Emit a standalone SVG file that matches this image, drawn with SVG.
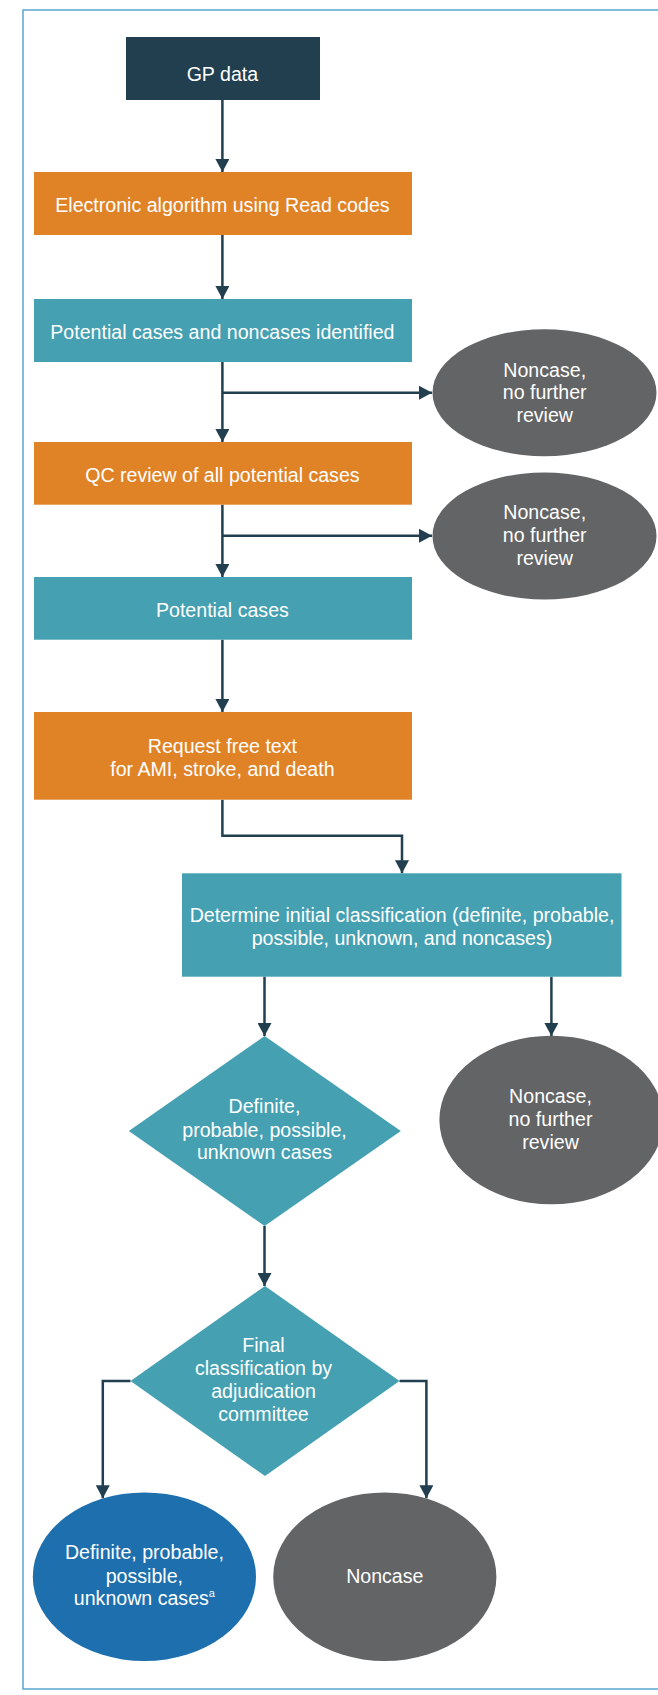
<svg xmlns="http://www.w3.org/2000/svg" width="658" height="1695" viewBox="0 0 658 1695">
<defs>
<marker id="ah" markerUnits="userSpaceOnUse" markerWidth="13" markerHeight="14" refX="13" refY="7" orient="auto">
<path d="M0,0 L13,7 L0,14 z" fill="#213f4f"/>
</marker>
<style>
.t{font-family:"Liberation Sans",Arial,sans-serif;font-size:19.6px;fill:#ffffff;text-anchor:middle}
.c{fill:none;stroke:#213f4f;stroke-width:2.5;marker-end:url(#ah)}
.navy{fill:#213f4f}.orange{fill:#e08327}.teal{fill:#45a0b2}.gray{fill:#636466}.blue{fill:#1d6fae}
</style>
</defs>
<rect x="0" y="0" width="658" height="1695" fill="#ffffff"/>
<rect x="23" y="10" width="700" height="1679" fill="none" stroke="#5aa5cf" stroke-width="1.5"/>
<g id="connectors">
<path class="c" d="M222.4,100 V172"/>
<path class="c" d="M222.4,235 V299"/>
<path class="c" d="M222.4,362 V442"/>
<path class="c" d="M222.4,392.7 H432"/>
<path class="c" d="M222.4,504.7 V577"/>
<path class="c" d="M222.4,535.7 H432"/>
<path class="c" d="M222.4,639.7 V712"/>
<path class="c" d="M222.4,799.7 V835.7 H402 V873.3"/>
<path class="c" d="M264.5,976.7 V1036"/>
<path class="c" d="M551.4,976.7 V1036"/>
<path class="c" d="M264.5,1226 V1286"/>
<path class="c" d="M130.5,1381 H102.8 V1498.3"/>
<path class="c" d="M399.5,1381 H426.4 V1498.3"/>
</g>
<g id="gp-data"><rect class="navy" x="126" y="37" width="194" height="63"/><text class="t" x="222.4" y="81">GP data</text></g>
<g id="algorithm"><rect class="orange" x="34" y="172" width="378" height="63"/><text class="t" x="222.4" y="211.7">Electronic algorithm using Read codes</text></g>
<g id="identified"><rect class="teal" x="34" y="299" width="378" height="63"/><text class="t" x="222.4" y="339">Potential cases and noncases identified</text></g>
<g id="noncase1"><ellipse class="gray" cx="544.5" cy="392.7" rx="112" ry="63.5"/><text class="t" x="544.7" y="376.7">Noncase,</text><text class="t" x="544.7" y="399">no further</text><text class="t" x="544.7" y="421.7">review</text></g>
<g id="qc-review"><rect class="orange" x="34" y="442" width="378" height="62.7"/><text class="t" x="222.4" y="481.7">QC review of all potential cases</text></g>
<g id="noncase2"><ellipse class="gray" cx="544.5" cy="536" rx="112" ry="63.5"/><text class="t" x="544.7" y="519">Noncase,</text><text class="t" x="544.7" y="542.3">no further</text><text class="t" x="544.7" y="565">review</text></g>
<g id="potential-cases"><rect class="teal" x="34" y="577" width="378" height="62.7"/><text class="t" x="222.4" y="617.3">Potential cases</text></g>
<g id="request"><rect class="orange" x="34" y="712" width="378" height="87.7"/><text class="t" x="222.4" y="752.7">Request free text</text><text class="t" x="222.4" y="775.7">for AMI, stroke, and death</text></g>
<g id="initial-classification"><rect class="teal" x="182" y="873.3" width="439.5" height="103.4"/><text class="t" x="402" y="921.7">Determine initial classification (definite, probable,</text><text class="t" x="402" y="945">possible, unknown, and noncases)</text></g>
<g id="cases-diamond"><polygon class="teal" points="264.6,1036 400.8,1131 264.6,1226 128.8,1131"/><text class="t" x="264.5" y="1113.3">Definite,</text><text class="t" x="264.5" y="1136.7">probable, possible,</text><text class="t" x="264.5" y="1159.3">unknown cases</text></g>
<g id="noncase3"><ellipse class="gray" cx="551.4" cy="1120" rx="112" ry="84.3"/><text class="t" x="550.5" y="1103.3">Noncase,</text><text class="t" x="550.5" y="1126">no further</text><text class="t" x="550.5" y="1149.3">review</text></g>
<g id="adjudication"><polygon class="teal" points="265,1286 399.5,1381 265,1476 130.5,1381"/><text class="t" x="263.5" y="1351.7">Final</text><text class="t" x="263.5" y="1375">classification by</text><text class="t" x="263.5" y="1398.3">adjudication</text><text class="t" x="263.5" y="1421">committee</text></g>
<g id="final-cases"><ellipse class="blue" cx="144.4" cy="1576.7" rx="111.6" ry="84.3"/><text class="t" x="144.4" y="1559.3">Definite, probable,</text><text class="t" x="144.4" y="1582.7">possible,</text><text class="t" x="144.4" y="1605.3">unknown cases<tspan font-size="11" dy="-8">a</tspan></text></g>
<g id="final-noncase"><ellipse class="gray" cx="384.8" cy="1576.7" rx="111.6" ry="84.3"/><text class="t" x="384.8" y="1582.7">Noncase</text></g>
</svg>
